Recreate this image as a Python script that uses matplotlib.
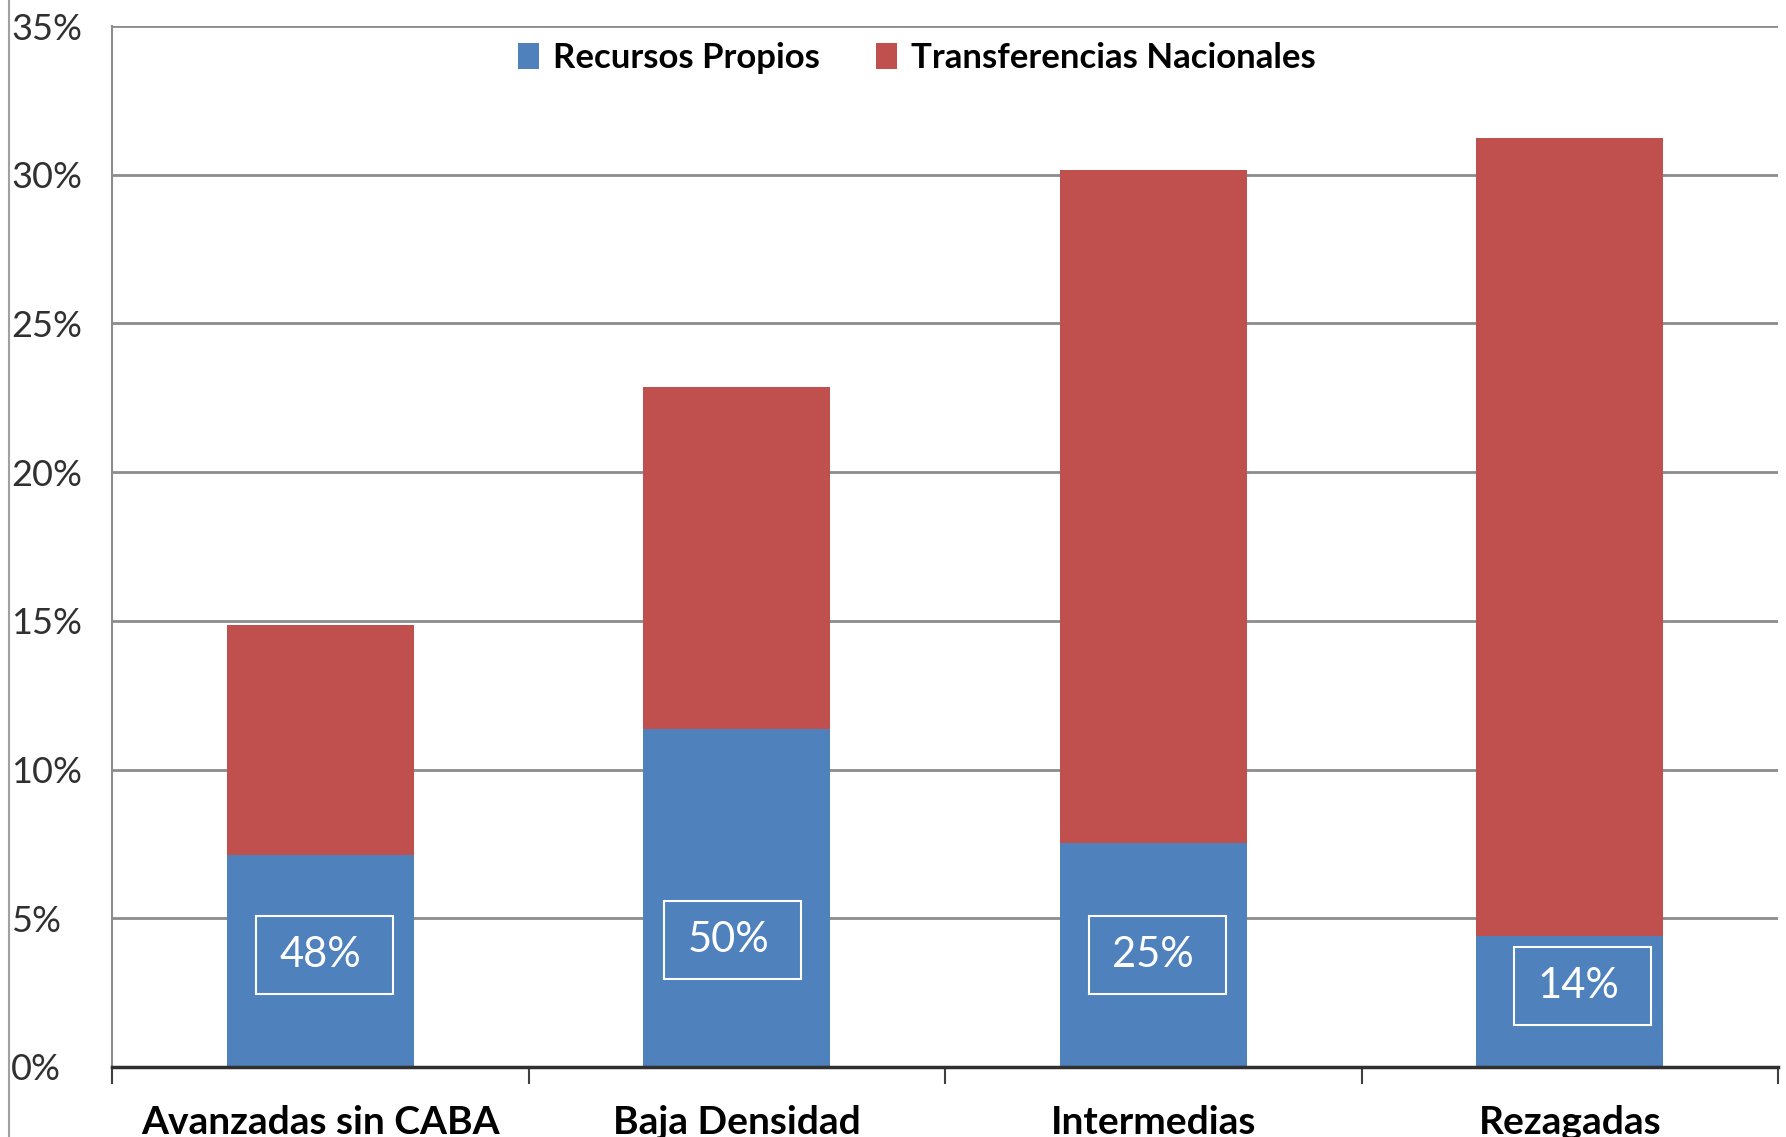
import matplotlib
matplotlib.use("Agg")
import matplotlib.pyplot as plt
from matplotlib.lines import Line2D
from matplotlib.patches import Patch, Rectangle

plt.rcParams['font.family'] = ['Lato', 'DejaVu Sans']

categories = ["Avanzadas sin CABA", "Baja Densidad", "Intermedias", "Rezagadas"]
recursos_propios = [7.14, 11.36, 7.52, 4.41]
transferencias = [7.71, 11.51, 22.64, 26.83]
share_labels = ["48%", "50%", "25%", "14%"]
yticks = [0, 5, 10, 15, 20, 25, 30, 35]
ytick_labels = ["0%", "5%", "10%", "15%", "20%", "25%", "30%", "35%"]

blue = "#4F81BD"
red = "#C0504D"

fig = plt.figure(figsize=(17.86, 11.37), dpi=100)
ax = fig.add_axes([112/1786, 1 - 1067/1137, (1778-112)/1786, (1067-26)/1137])

x = list(range(len(categories)))
ax.bar(x, recursos_propios, width=0.45, color=blue, zorder=3)
ax.bar(x, transferencias, width=0.45, bottom=recursos_propios, color=red, zorder=3)

ax.set_xlim(-0.5, 3.5)
ax.set_ylim(0, 35)
ax.set_yticks(yticks)
ax.set_yticklabels(ytick_labels, fontsize=26, color="#303030")
for t in ax.get_yticklabels():
    t.set_horizontalalignment('left')
ax.yaxis.grid(True, color="#8c8c8c", linewidth=2, zorder=0)
ax.tick_params(axis='y', length=0, pad=72.5)

ax.set_xticks([-0.5, 0.5, 1.5, 2.5, 3.5])
ax.set_xticklabels([])
ax.tick_params(axis='x', which='major', direction='out', length=12, width=1.5, color="#404040")
ax.set_xticks(x, minor=True)
ax.set_xticklabels(categories, minor=True, fontsize=28, fontweight='bold', color='black')
ax.tick_params(axis='x', which='minor', length=0, pad=27)

for s in ['top', 'right']:
    ax.spines[s].set_visible(False)
ax.spines['left'].set_color("#8c8c8c")
ax.spines['left'].set_linewidth(1.5)
ax.spines['bottom'].set_color("#303030")
ax.spines['bottom'].set_linewidth(2.5)
ax.spines['bottom'].set_zorder(4)

label_y = [3.76, 4.26, 3.76, 2.72]
label_dx = [0.01, -0.01, 0.01, 0.03]
box_w, box_h = 0.329, 2.61
for xi, dx, ly, lab in zip(x, label_dx, label_y, share_labels):
    ax.add_patch(Rectangle((xi + dx - box_w/2, ly - box_h/2), box_w, box_h, facecolor='none',
                           edgecolor='white', linewidth=1.5, zorder=5))
    ax.text(xi + dx - 0.01, ly, lab, ha='center', va='center', fontsize=30, color='white', zorder=5)

handles = [Patch(facecolor=blue), Patch(facecolor=red)]
leg = ax.legend(handles, ["Recursos Propios", "Transferencias Nacionales"], loc='upper center',
                bbox_to_anchor=(0.483, 0.998), ncol=2, frameon=False,
                prop={'size': 25, 'weight': 'bold'}, handlelength=0.62, handleheight=0.78,
                handletextpad=0.4, columnspacing=1.6, borderaxespad=0.0)

fig.add_artist(Line2D([9/1786, 9/1786], [0, 1], color="#a0a0a0", linewidth=1.5))

fig.savefig("out.png", dpi=100)
